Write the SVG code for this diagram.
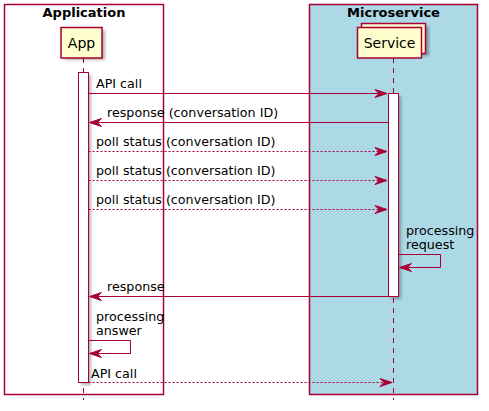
<svg xmlns="http://www.w3.org/2000/svg" width="489" height="411" viewBox="0 0 489 411">
<style>
.box{fill:none;stroke:#A80036;stroke-width:1.5}
.part{fill:#FEFECE;stroke:#A80036;stroke-width:1.5}
.act{fill:#FFFFFF;stroke:#A80036;stroke-width:1}
.life{stroke:#A80036;stroke-width:1;stroke-dasharray:5,5;fill:none}
.msg{stroke:#A80036;stroke-width:1;fill:none}
.dot{stroke:#A80036;stroke-width:1;stroke-dasharray:2,2;fill:none}
.head{fill:#A80036;stroke:#A80036;stroke-width:1}
.t{font-family:"DejaVu Sans",sans-serif;font-size:12.7px;fill:#000}
.title{font-family:"DejaVu Sans",sans-serif;font-size:13px;font-weight:bold;fill:#000}
.pt{font-family:"DejaVu Sans",sans-serif;font-size:14px;fill:#000}
.sh{fill:#000;opacity:0.3;filter:url(#blur)}
</style>
<defs>
<filter id="blur" x="-50%" y="-50%" width="200%" height="200%"><feGaussianBlur stdDeviation="1.5"/></filter>
<polygon id="ahR" points="-12,-4 0,0 -12,4 -8,0"/>
<polygon id="ahL" points="12,-4 0,0 12,4 8,0"/>
</defs>
<rect width="489" height="411" fill="#FFFFFF"/>
<g id="box-application">
<rect x="4.5" y="4.5" width="159" height="390" class="box"/>
<text x="84" y="17" text-anchor="middle" class="title">Application</text>
</g>
<g id="box-microservice">
<rect x="309.5" y="4.5" width="168" height="390" fill="#ADD8E6" stroke="#A80036" stroke-width="1.5"/>
<text x="393.5" y="17" text-anchor="middle" class="title">Microservice</text>
</g>
<g id="lifelines">
<line x1="83.5" y1="58" x2="83.5" y2="400" class="life"/>
<line x1="393.5" y1="58" x2="393.5" y2="400" class="life"/>
</g>
<g id="App">
<rect x="64" y="30" width="41" height="30" class="sh"/>
<rect x="61" y="27.5" width="41" height="30.5" class="part"/>
<text x="81.5" y="48" text-anchor="middle" class="pt">App</text>
</g>
<g id="Service">
<rect x="364" y="26" width="65" height="30" class="sh"/>
<rect x="361.5" y="23.5" width="64" height="30" class="part"/>
<rect x="357.5" y="27.5" width="64" height="30.5" class="part"/>
<text x="389.5" y="48" text-anchor="middle" class="pt">Service</text>
</g>
<g id="activations">
<rect x="81" y="75" width="10" height="310" class="sh"/>
<rect x="78.5" y="72.5" width="10" height="310" class="act"/>
<rect x="391" y="96" width="10" height="203" class="sh"/>
<rect x="388.5" y="93.5" width="10" height="203" class="act"/>
</g>
<g id="connectors">
<line x1="88.5" y1="93.5" x2="387" y2="93.5" class="msg"/>
<use href="#ahR" x="387" y="93.5" class="head"/>
<text x="96" y="88" class="t">API call</text>

<line x1="90" y1="122.5" x2="388.5" y2="122.5" class="msg"/>
<use href="#ahL" x="89.5" y="122.5" class="head"/>
<text x="107" y="117" class="t">response (conversation ID)</text>

<line x1="88.5" y1="151.5" x2="387" y2="151.5" class="dot"/>
<use href="#ahR" x="387" y="151.5" class="head"/>
<text x="96" y="146" class="t">poll status (conversation ID)</text>

<line x1="88.5" y1="180.5" x2="387" y2="180.5" class="dot"/>
<use href="#ahR" x="387" y="180.5" class="head"/>
<text x="96" y="175" class="t">poll status (conversation ID)</text>

<line x1="88.5" y1="209.5" x2="387" y2="209.5" class="dot"/>
<use href="#ahR" x="387" y="209.5" class="head"/>
<text x="96" y="204" class="t">poll status (conversation ID)</text>

<polyline points="398.5,254.5 440.5,254.5 440.5,267.5 400,267.5" class="msg"/>
<use href="#ahL" x="399.5" y="267.5" class="head"/>
<text x="406" y="235" class="t">processing</text>
<text x="406" y="249" class="t">request</text>

<line x1="90" y1="296.5" x2="388.5" y2="296.5" class="msg"/>
<use href="#ahL" x="89.5" y="296.5" class="head"/>
<text x="107" y="291" class="t">response</text>

<polyline points="88.5,340.5 130.5,340.5 130.5,353.5 90,353.5" class="msg"/>
<use href="#ahL" x="89.5" y="353.5" class="head"/>
<text x="96" y="321" class="t">processing</text>
<text x="96" y="335" class="t">answer</text>

<line x1="88.5" y1="382.5" x2="392" y2="382.5" class="dot"/>
<use href="#ahR" x="392" y="382.5" class="head"/>
<text x="91" y="378" class="t">API call</text>
</g>
</svg>
